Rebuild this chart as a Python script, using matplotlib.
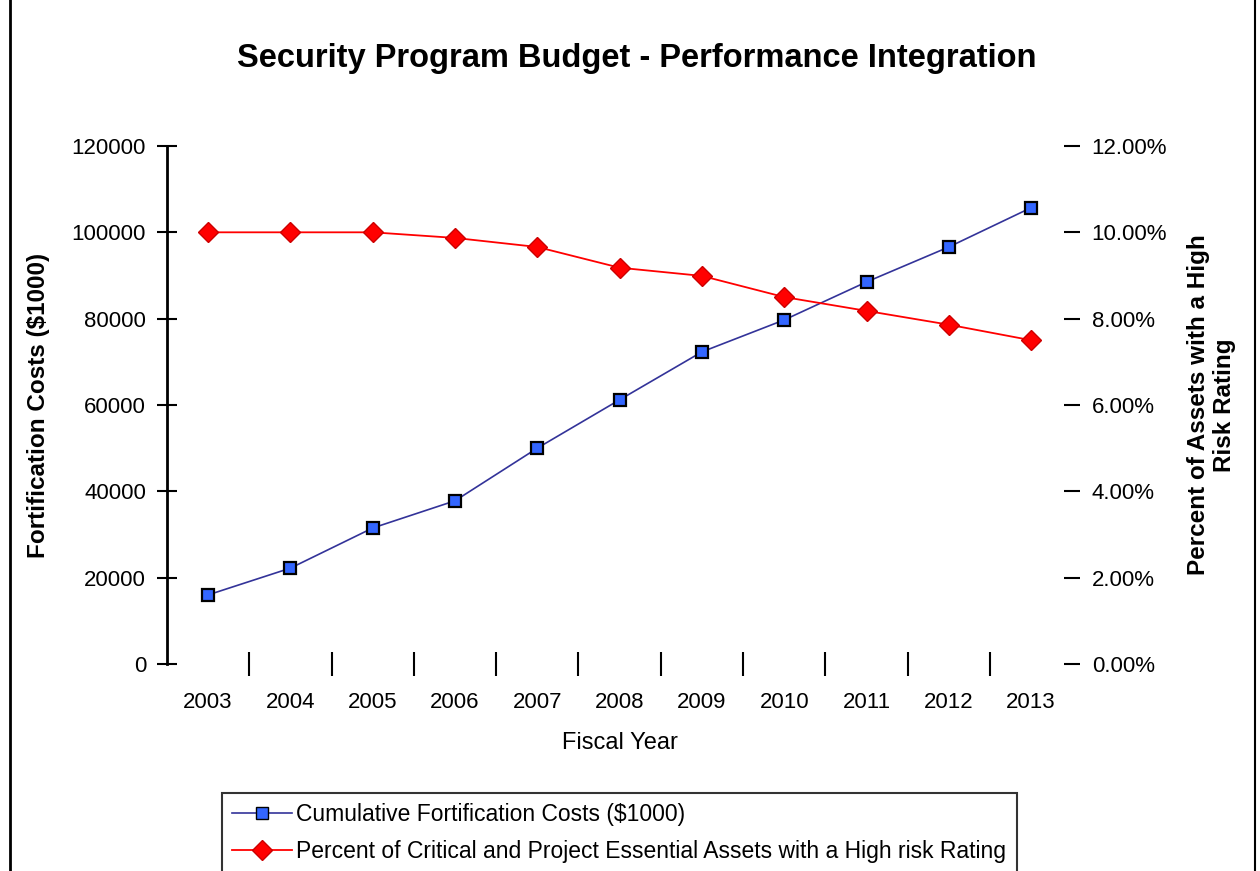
import matplotlib
matplotlib.use("Agg")
import matplotlib.pyplot as plt
from matplotlib.lines import Line2D
from matplotlib.ticker import FuncFormatter, FixedLocator

plt.rcParams['font.family'] = ['Liberation Sans', 'DejaVu Sans']

# data
years = ['2003', '2004', '2005', '2006', '2007', '2008', '2009', '2010', '2011', '2012', '2013']
costs = [16000, 22200, 31500, 37800, 50000, 61200, 72300, 79700, 88500, 96600, 105700]
pct_high_risk = [10.0, 10.0, 10.0, 9.87, 9.66, 9.18, 8.99, 8.5, 8.18, 7.86, 7.5]

cost_label = 'Cumulative Fortification Costs ($1000)'
pct_label = 'Percent of Critical and Project Essential Assets with a High risk Rating'

fig = plt.figure(figsize=(12.6, 8.71), dpi=100)
ax = fig.add_axes([0.1325, 0.2377, 0.7185, 0.5947])
ax2 = ax.twinx()

x = list(range(len(years)))

ax.plot(x, costs, color='#333399', lw=1.2, marker='s', markersize=9,
        markerfacecolor='#3366ff', markeredgecolor='black', markeredgewidth=1.6, zorder=3)
ax2.plot(x, pct_high_risk, color='red', lw=1.3, marker='D', markersize=10,
         markerfacecolor='red', markeredgecolor='#cc0000', zorder=3)

ax.set_xlim(-0.5, len(years) - 0.5)
ax.set_ylim(0, 120000)
ax2.set_ylim(0, 12)
ax.set_yticks(range(0, 120001, 20000))
ax2.set_yticks(range(0, 13, 2))
ax2.yaxis.set_major_formatter(FuncFormatter(lambda v, p: f'{v:.2f}%'))

# category ticks sit between the years
ax.set_xticks(x)
ax.set_xticklabels(years, fontsize=16)
ax.xaxis.set_minor_locator(FixedLocator([i + 0.5 for i in x[:-1]]))
ax.tick_params(axis='x', which='major', length=0, pad=20)
ax.tick_params(axis='x', which='minor', length=17, width=1.5, direction='inout', color='black')

ax.tick_params(axis='y', direction='inout', length=14, width=1.5, labelsize=16, pad=8)
ax2.tick_params(axis='y', direction='inout', length=12, width=1.5, labelsize=16, pad=8)

for a in (ax, ax2):
    for s in ('top', 'right', 'bottom'):
        a.spines[s].set_visible(False)
ax2.spines['left'].set_visible(False)
ax.spines['left'].set_linewidth(2)

ax.set_xlabel('Fiscal Year', fontsize=17, labelpad=14)
ax.set_ylabel('Fortification Costs ($1000)', fontsize=17.5, fontweight='bold', labelpad=16)
ax2.set_ylabel('Percent of Assets with a High\nRisk Rating', fontsize=17.5, fontweight='bold', labelpad=14)

fig.text(0.505, 0.933, 'Security Program Budget - Performance Integration',
         ha='center', va='center', fontsize=23.5, fontweight='bold')

handles = [
    Line2D([], [], color='#333399', lw=1.2, marker='s', markersize=9,
           markerfacecolor='#3366ff', markeredgecolor='black'),
    Line2D([], [], color='red', lw=1.3, marker='D', markersize=10,
           markerfacecolor='red', markeredgecolor='#cc0000'),
]
leg = fig.legend(handles, [cost_label, pct_label], loc='upper left',
                 bbox_to_anchor=(0.176, 0.0896), borderaxespad=0, fontsize=16.5,
                 frameon=True, fancybox=False, edgecolor='black', handlelength=2.6,
                 handletextpad=0.2, borderpad=0.45, labelspacing=0.6)
leg.get_frame().set_linewidth(1.5)

# chart area border on the sides
fig.add_artist(Line2D([0.008, 0.008], [0, 1], color='black', lw=2, transform=fig.transFigure))
fig.add_artist(Line2D([0.996, 0.996], [0, 1], color='black', lw=1.5, transform=fig.transFigure))

fig.savefig('out.png', dpi=100)
